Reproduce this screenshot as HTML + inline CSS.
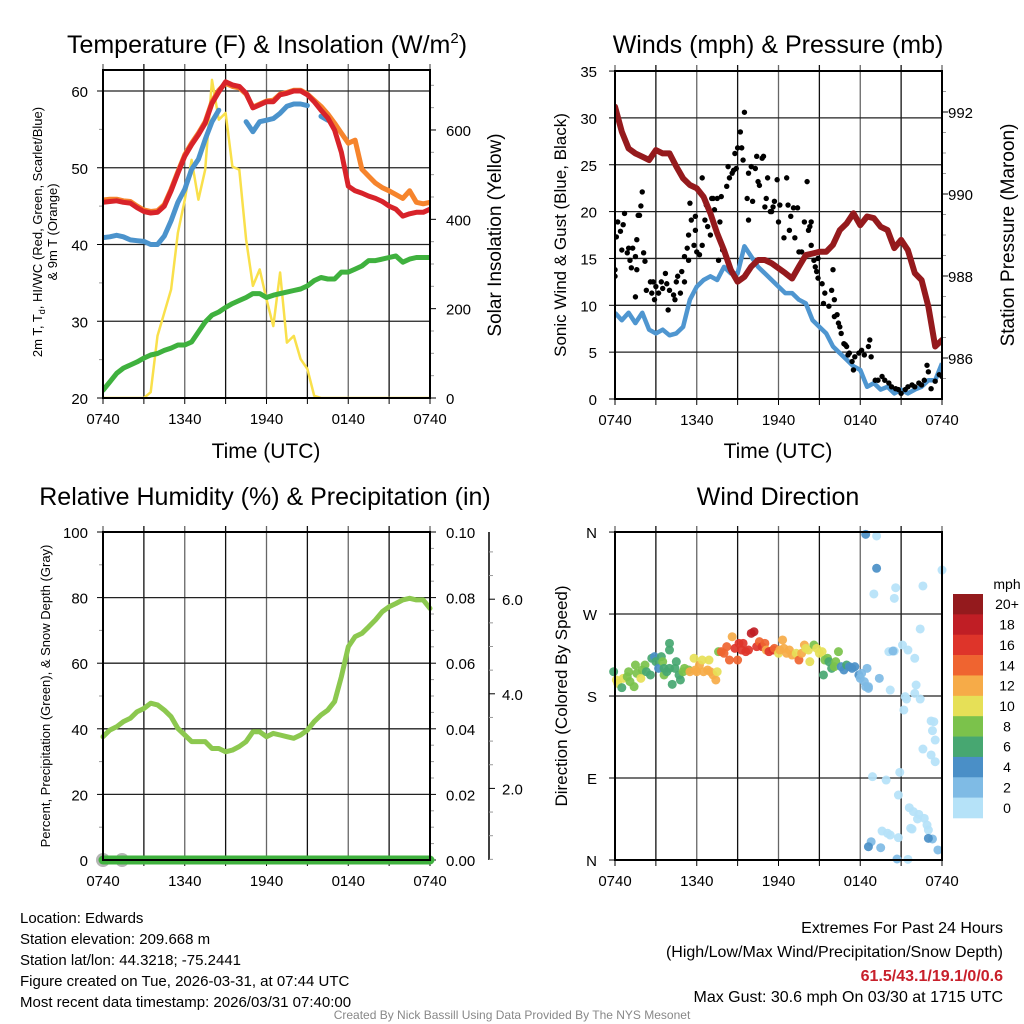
<!DOCTYPE html>
<html><head><meta charset="utf-8">
<style>
html,body{margin:0;padding:0;background:#fff;}
svg{display:block;font-family:"Liberation Sans",Arial,sans-serif;}
</style></head>
<body>
<svg id="chart" width="1024" height="1024" viewBox="0 0 1024 1024" xmlns="http://www.w3.org/2000/svg">
<defs>
<clipPath id="c1"><rect x="103" y="70" width="327" height="329"/></clipPath>
<clipPath id="c2"><rect x="615" y="71" width="327" height="328"/></clipPath>
<clipPath id="c4"><rect x="608" y="525" width="340" height="342"/></clipPath>
</defs>
<text x="267" y="53" font-size="25" text-anchor="middle">Temperature (F) &amp; Insolation (W/m<tspan font-size="15" dy="-10">2</tspan><tspan dy="10">)</tspan></text>
<text x="778" y="53" font-size="25" text-anchor="middle">Winds (mph) &amp; Pressure (mb)</text>
<text x="265" y="505" font-size="25" text-anchor="middle">Relative Humidity (%) &amp; Precipitation (in)</text>
<text x="778" y="505" font-size="25" text-anchor="middle">Wind Direction</text>

<text x="266" y="458" font-size="21" text-anchor="middle">Time (UTC)</text>
<text x="778" y="458" font-size="21" text-anchor="middle">Time (UTC)</text>

<text transform="translate(42,232) rotate(-90)" font-size="13" text-anchor="middle">2m T, T<tspan font-size="9" dy="3">d</tspan><tspan dy="-3">, HI/WC (Red, Green, Scarlet/Blue)</tspan></text>
<text transform="translate(57,232) rotate(-90)" font-size="13" text-anchor="middle">&amp; 9m T (Orange)</text>
<text transform="translate(501,235) rotate(-90)" font-size="19" text-anchor="middle">Solar Insolation (Yellow)</text>
<text transform="translate(566,235) rotate(-90)" font-size="17" text-anchor="middle">Sonic Wind &amp; Gust (Blue, Black)</text>
<text transform="translate(1014,235) rotate(-90)" font-size="19" text-anchor="middle">Station Pressure (Maroon)</text>
<text transform="translate(50,696) rotate(-90)" font-size="13" text-anchor="middle">Percent, Precipitation (Green), &amp; Snow Depth (Gray)</text>
<text transform="translate(567,696) rotate(-90)" font-size="17" text-anchor="middle">Direction (Colored By Speed)</text>

<g font-size="15">
<text x="20" y="923">Location: Edwards</text>
<text x="20" y="944">Station elevation: 209.668 m</text>
<text x="20" y="965">Station lat/lon: 44.3218; -75.2441</text>
<text x="20" y="986">Figure created on Tue, 2026-03-31, at 07:44 UTC</text>
<text x="20" y="1007">Most recent data timestamp: 2026/03/31 07:40:00</text>
</g>
<g font-size="16" text-anchor="end">
<text x="1003" y="933">Extremes For Past 24 Hours</text>
<text x="1003" y="957">(High/Low/Max Wind/Precipitation/Snow Depth)</text>
<text x="1003" y="981" fill="#c8202b" font-weight="bold">61.5/43.1/19.1/0/0.6</text>
<text x="1003" y="1002">Max Gust: 30.6 mph On 03/30 at 1715 UTC</text>
</g>
<text x="512" y="1019" font-size="12" fill="#888" text-anchor="middle">Created By Nick Bassill Using Data Provided By The NYS Mesonet</text>
<g id="plots"></g>
</svg>
<script>
// ---------- DATA ----------
const xTickHours = [0, 6, 12, 18, 24];
const xTickLabels = ["0740", "1340", "1940", "0140", "0740"];
const temp2m = [45.5,45.6,45.7,45.5,45.4,44.8,44.3,44.1,44.2,45.0,47.0,49.3,51.5,53.0,54.3,55.8,58.4,59.9,61.2,60.8,60.6,59.7,57.8,58.2,58.6,58.6,59.5,59.7,60.0,60.0,59.5,58.6,57.5,56.5,54.9,52.0,47.6,47.0,46.7,46.3,46.0,45.6,45.0,44.6,43.7,44.0,44.2,44.2,44.6];
const temp9m = [45.8,45.9,45.9,45.7,45.6,45.0,44.5,44.3,44.4,45.2,47.2,49.5,51.7,53.2,54.5,56.0,58.6,60.1,61.0,60.6,60.4,59.6,57.9,58.3,58.7,58.8,59.6,59.8,60.1,60.1,59.6,58.8,58.0,57.0,55.8,54.5,53.2,53.6,49.8,48.9,48.0,47.4,47.0,46.5,46.0,47.0,45.5,45.3,45.5];
const windChill = [40.9,41.0,41.2,41.0,40.6,40.5,40.4,40.0,40.0,41.1,43.1,45.5,47.2,49.8,51.1,53.7,56.0,57.5,null,null,null,56.0,54.7,56.0,56.2,56.4,57.1,58.0,58.3,58.3,58.1,null,56.7,56.2,null,null,null,null,null,null,null,null,null,null,null,null,null,null,43.0];
const dewPoint = [21.0,22.1,23.2,23.9,24.3,24.7,25.2,25.6,25.8,26.2,26.5,26.9,26.9,27.3,28.6,29.9,30.8,31.2,31.8,32.3,32.7,33.1,33.6,33.6,33.1,33.4,33.6,33.8,34.0,34.2,34.6,35.3,35.7,35.5,35.5,36.4,36.4,36.8,37.2,37.9,37.9,38.1,38.3,38.5,37.7,38.1,38.3,38.3,38.3];
const solar = [0,0,0,0,0,0,0,13,139,191,243,370,444,533,444,511,712,623,638,518,511,355,251,288,221,161,281,124,139,87,65,5,0,0,0,0,0,0,0,0,0,0,0,0,0,0,0,0,0];
const pressure = [992.13,991.52,991.11,990.99,990.91,990.83,991.07,990.99,990.99,990.67,990.38,990.22,990.14,989.93,989.53,989.04,988.63,988.15,987.86,987.98,988.23,988.39,988.39,988.31,988.19,988.07,987.94,988.23,988.51,988.55,988.59,988.59,988.76,989.12,989.28,989.53,989.24,989.45,989.41,989.20,989.12,988.68,988.88,988.63,988.07,987.90,987.25,986.28,986.44];
const sonicWind = [9.2,8.4,9.2,8.1,9.2,7.4,7.0,7.4,6.8,7.0,7.7,10.6,12.0,12.7,13.1,12.7,14.1,13.4,13.4,16.3,15.2,14.1,13.4,12.7,12.0,11.3,11.3,10.6,10.2,8.4,7.7,7.0,5.6,4.9,4.2,3.5,3.1,1.3,1.7,1.0,1.3,0.6,1.0,0.6,1.0,1.3,2.0,2.0,3.8];
const gustHours = [0.0,0.0,0.1,0.2,0.4,0.6,0.7,0.5,0.9,1.0,1.1,1.2,1.3,1.5,1.6,1.6,1.7,1.8,1.9,2.0,2.1,2.2,1.5,2.3,2.6,2.8,2.7,2.9,3.0,3.2,3.4,3.5,3.7,3.8,3.9,4.0,4.3,4.4,4.5,4.6,4.8,4.9,5.1,5.1,5.3,5.4,5.4,5.5,5.6,5.8,5.9,5.9,6.0,6.2,6.4,6.4,6.6,6.7,6.8,7.0,7.1,7.2,7.3,7.5,7.6,7.7,7.8,7.9,8.2,8.3,8.4,8.6,8.7,8.8,8.9,9.0,9.2,9.3,9.4,9.5,9.7,9.8,9.8,10.0,10.1,10.3,10.4,10.5,10.6,10.8,10.9,11.0,11.1,11.2,11.4,11.5,11.6,11.7,11.9,12.0,12.1,12.4,12.6,12.7,12.8,12.9,13.1,13.2,13.4,13.5,13.7,13.9,14.1,14.2,14.3,14.4,14.4,14.6,14.7,14.8,14.9,14.9,15.2,15.4,15.3,15.7,15.9,16.0,16.1,16.1,16.3,16.4,16.5,16.6,16.8,16.9,17.0,17.1,17.2,17.4,17.5,17.6,17.9,18.1,18.3,18.6,18.7,18.8,19.1,19.3,19.6,19.8,20.1,20.3,20.6,20.8,21.0,21.3,21.5,21.8,22.0,22.3,22.5,22.7,22.9,23.0,23.2,23.5,23.8,24.0];
const gustMph = [13.8,13.1,17.3,18.9,17.9,18.6,19.8,15.9,15.6,16.1,14.8,14.0,16.1,15.2,17.0,13.8,19.6,19.6,20.6,22.1,15.6,14.7,10.9,11.6,12.5,12.5,11.3,10.6,12.0,11.3,12.5,11.8,13.4,12.3,9.5,11.6,11.1,10.6,12.5,13.1,11.3,13.6,12.5,15.2,16.1,14.8,17.5,20.9,19.1,16.4,18.0,19.5,15.7,15.4,16.4,23.6,19.1,20.7,18.4,17.5,21.4,21.4,20.2,21.4,14.8,18.9,21.6,15.9,22.7,24.8,23.6,24.1,24.4,26.2,24.6,26.8,28.5,26.8,25.5,30.6,21.4,19.1,24.1,24.8,21.1,24.6,25.9,23.2,22.8,25.7,25.9,20.5,21.4,23.6,20.0,20.0,20.5,21.1,23.4,18.9,20.7,17.2,23.6,20.7,18.0,19.5,20.4,17.2,20.4,15.7,15.7,18.9,23.2,18.0,18.4,18.9,16.4,14.8,14.1,13.6,12.9,15.0,12.3,11.3,10.2,9.9,11.6,13.8,8.8,10.6,9.0,8.1,7.7,7.0,5.9,5.8,5.6,4.7,4.9,4.0,3.1,4.5,4.9,5.2,4.7,5.6,6.3,4.5,2.0,2.0,2.4,2.0,1.7,1.3,1.1,1.0,0.6,1.0,1.3,1.5,1.3,1.7,1.5,2.0,3.6,2.9,1.1,1.9,2.6,2.4];
const relHumidity = [37.6,39.6,40.6,42.2,43.2,45.2,46.2,47.8,47.3,45.7,43.7,40.1,38.1,36.1,36.1,36.1,34.0,34.0,33.0,33.5,34.6,36.1,39.1,39.1,37.6,38.6,38.1,37.6,37.1,38.1,39.6,42.2,44.2,45.7,48.3,55.9,65.0,68.1,69.1,71.1,73.2,75.7,77.2,78.2,79.3,79.8,79.3,79.3,76.7];
const precip = [0,0,0,0,0,0,0,0,0,0,0,0,0,0,0,0,0,0,0,0,0,0,0,0,0,0,0,0,0,0,0,0,0,0,0,0,0,0,0,0,0,0,0,0,0,0,0,0,0];
const snowHours = [0.0, 1.4];
const snowDepth = [0.0, 0.0];
const dirHours = [-0.1,0.1,0.2,0.5,0.6,0.9,1.0,1.1,1.4,1.5,1.6,1.9,2.0,2.2,2.3,2.6,2.7,2.9,3.0,3.2,3.4,3.5,3.6,3.6,3.8,4.0,4.0,4.0,4.2,4.4,4.5,4.7,4.8,5.0,5.1,5.4,5.5,5.8,5.9,6.0,6.2,6.4,6.5,6.8,6.9,7.0,7.2,7.4,7.5,7.6,7.8,8.0,8.2,8.4,8.6,8.8,9.0,9.1,9.3,9.4,9.6,9.8,10.0,10.2,10.4,10.6,10.8,11.0,11.1,11.3,11.6,11.7,12.0,12.1,12.3,12.4,12.6,12.8,13.0,13.3,13.5,13.7,13.9,14.0,14.2,14.3,14.6,14.8,15.0,15.2,15.3,15.4,15.6,15.7,15.9,16.1,16.2,16.4,16.6,16.8,17.0,17.2,17.4,17.6,17.9,18.0,18.1,18.3,18.4,18.6,
 18.6,19.4,18.5,18.4,19.2,20.5,20.5,20.1,20.6,20.4,20.2,21.3,21.4,21.2,21.1,21.5,22.0,22.1,22.0,22.4,22.4,22.6,24.0,19.2,19.0,23.2,23.2,23.4,23.3,23.5,22.6,23.5,20.9,18.9,19.9,20.8,21.6,21.9,22.2,22.3,22.7,22.9,21.8,20.8,20.2,20.0,19.6,18.8,21.7,23.0,23.3,23.0,18.6,19.5,23.7,20.7,21.5];
const dirDeg = [206.7,197.6,193.9,189.2,199.4,201.2,206.7,195.8,190.3,214,204.9,199.4,208.6,214,206.7,203.1,221.4,223.2,217.7,210.4,223.2,217.7,203.1,210.4,206.7,210.4,237.8,230.5,192.8,210.4,217.7,203.1,197.6,206.7,210.4,208.6,206.7,221.4,208.6,206.7,214,219.5,206.7,208.6,219.5,206.7,203.1,197.6,206.7,228.7,
 228.7,226.9,234.2,219.5,245.1,232.3,219.5,237.8,230.5,237.8,228.7,230.5,248.8,250.6,234.2,239.7,234.2,237.8,230.5,228.7,230.5,232.3,226.9,230.5,241.5,232.3,226.9,230.5,225,226.9,219.5,226.9,236,232.3,230.5,217.7,236,232.3,226.9,228.7,203.1,219.5,221.4,217.7,210.4,212.2,217.7,228.7,212.2,208.6,214,212.2,210.4,212.2,203.1,199.4,204.9,195.8,190.3,188.4,
 190.3,199.4,210.4,357.5,355.7,287.2,229.4,228.7,298.9,229.4,186.6,179.3,176.7,164.7,236,230.5,221.4,192.1,182.9,176.7,253.6,300.8,318.3,320.2,292,152.6,115.3,151.8,142,131.7,121.8,107.9,96.2,91.5,87.8,71.3,57.4,53.1,45,50.1,45.7,38.4,34,24.5,27.4,29.3,31.8,20.1,34.8,32.9,23.1,23.8,14.6,13.5,11,1.1,0.7];
const dirSpeed = [7,11,11,7,11,9,9,9,9,9,9,11,9,9,7,7,7,5,7,5,7,9,9,7,7,7,7,7,7,7,7,7,7,9,9,9,13,11,13,13,13,11,13,13,11,13,13,13,11,9,
 15,15,15,15,13,17,15,17,17,17,17,17,19,19,17,15,17,15,13,17,17,15,11,13,13,13,13,13,13,11,15,13,13,11,11,11,9,11,11,11,7,9,9,7,7,9,9,9,5,5,7,5,5,5,5,3,3,3,3,3,
 3,3,3,5,1,1,1,1,1,3,1,1,1,1,1,1,1,1,1,1,1,1,1,5,1,1,1,1,1,1,1,1,1,1,1,1,1,1,1,1,1,1,1,1,1,1,1,3,1,1,3,5,5,3,3,3,1];
const speedBinLabels = ["0","2","4","6","8","10","12","14","16","18","20+"];
const speedBinColors = ["#b5e2f8","#7fbbe5","#4a8fc7","#47a771","#7bc24b","#e6e057","#f6ab48","#ef6430","#de342a","#c01e25","#941a1d"];

// ---------- HELPERS ----------
const NS = "http://www.w3.org/2000/svg";
const root = document.getElementById("plots");
function mk(tag, attrs, parent) {
  const e = document.createElementNS(NS, tag);
  for (const k in attrs) e.setAttribute(k, attrs[k]);
  (parent || root).appendChild(e);
  return e;
}
function txt(x, y, s, size, anchor, parent) {
  const t = mk("text", {x: x, y: y, "font-size": size, "text-anchor": anchor}, parent);
  t.textContent = s;
  return t;
}
function linePath(xs, ys) {
  let d = "", pen = false;
  for (let i = 0; i < xs.length; i++) {
    if (ys[i] === null || ys[i] === undefined) { pen = false; continue; }
    d += (pen ? "L" : "M") + xs[i].toFixed(1) + "," + ys[i].toFixed(1);
    pen = true;
  }
  return d;
}
const halfHours = temp2m.map((_, i) => i * 0.5);

function frame(p, name) {
  const g = mk("g", {});
  
  
  for (let h = 0; h <= 24; h += 3) {
    const x = p.x(h);
    const gl = mk("line", {x1: x, x2: x, y1: p.top - 6, y2: p.bot, stroke: (h % 6 === 0) ? "#666" : "#111", "stroke-width": 1.3}, g);
    
    
    const tk = mk("line", {x1: x, x2: x, y1: p.bot, y2: p.bot + 6, stroke: "#000", "stroke-width": 1}, g);
    
    
  }
  xTickHours.forEach((h, i) => {
    const t = txt(p.x(h), p.bot + 26, xTickLabels[i], 15, "middle", g);
    
    
  });
  return g;
}
function border(p) {
  const r = mk("rect", {x: p.left, y: p.top, width: p.right - p.left, height: p.bot - p.top, fill: "none", stroke: "#000", "stroke-width": 2});
  
  
}
function hgrid(g, p, ys) {
  ys.forEach(y => {
    const l = mk("line", {x1: p.left, x2: p.right, y1: y, y2: y, stroke: "#222", "stroke-width": 1.3}, g);
    
    
  });
}
function yTicks(g, x, ys, len, major) {
  ys.forEach(y => {
    const l = mk("line", {x1: x, x2: x + len, y1: y, y2: y, stroke: major ? "#000" : "#999", "stroke-width": 1}, g);
    
    
  });
}

// ---------- PANEL 1 ----------
const p1 = {left: 103, right: 430, top: 70, bot: 398};
p1.x = h => p1.left + h / 24 * (p1.right - p1.left);
const yT = t => 91 + (60 - t) * 7.675;
const yS = w => 398 - w * 0.4467;
{
  const g = frame(p1, "temperature");
  const tks = [20, 30, 40, 50, 60];
  hgrid(g, p1, tks.map(yT));
  yTicks(g, p1.left, tks.map(yT), -6, true);
  yTicks(g, p1.left, [25, 35, 45, 55].map(yT), -4, false);
  tks.forEach(t => { const e = txt(88, yT(t) + 6, String(t), 15, "end", g);   });
  const sT = [0, 200, 400, 600];
  yTicks(g, p1.right, sT.map(yS), 6, true);
  yTicks(g, p1.right, [50, 100, 150, 250, 300, 350, 450, 500, 550, 650, 700].map(yS), 4, false);
  sT.forEach(w => { const e = txt(446, yS(w) + 6, String(w), 15, "start", g);   });
  const c = mk("g", {"clip-path": "url(#c1)"});
  const xs = halfHours.map(p1.x);
  const s1 = mk("path", {d: linePath(xs, solar.map(yS)), fill: "none", stroke: "#f9e04b", "stroke-width": 2.5, "stroke-linejoin": "round"}, c);
  
  
  const s2 = mk("path", {d: linePath(xs, dewPoint.map(yT)), fill: "none", stroke: "#3fb13e", "stroke-width": 5, "stroke-linejoin": "round", "stroke-linecap": "round"}, c);
  
  
  const s3 = mk("path", {d: linePath(xs, windChill.map(v => v === null ? null : yT(v))), fill: "none", stroke: "#4b93cc", "stroke-width": 5, "stroke-linejoin": "round", "stroke-linecap": "round"}, c);
  
  
  const s4 = mk("path", {d: linePath(xs, temp9m.map(yT)), fill: "none", stroke: "#f6842c", "stroke-width": 5, "stroke-linejoin": "round", "stroke-linecap": "round"}, c);
  
  
  const s5 = mk("path", {d: linePath(xs, temp2m.map(yT)), fill: "none", stroke: "#d8232a", "stroke-width": 5, "stroke-linejoin": "round", "stroke-linecap": "round"}, c);
  
  
  border(p1);
}

// ---------- PANEL 2 ----------
const p2 = {left: 615, right: 942, top: 71, bot: 399};
p2.x = h => p2.left + h / 24 * (p2.right - p2.left);
const yW = v => 399 - v * 9.37;
const yP = pr => 71 + (993 - pr) * 41;
{
  const g = frame(p2, "winds");
  const tks = [0, 5, 10, 15, 20, 25, 30, 35];
  hgrid(g, p2, tks.map(yW));
  yTicks(g, p2.left, tks.map(yW), -6, true);
  tks.forEach(v => { const e = txt(597, yW(v) + 6, String(v), 15, "end", g);   });
  const pt = [986, 988, 990, 992];
  yTicks(g, p2.right, pt.map(yP), 6, true);
  yTicks(g, p2.right, [985.5, 986.5, 987, 987.5, 988.5, 989, 989.5, 990.5, 991, 991.5, 992.5].map(yP), 4, false);
  pt.forEach(v => { const e = txt(948, yP(v) + 6, String(v), 15, "start", g);   });
  const c = mk("g", {"clip-path": "url(#c2)"});
  const xs = halfHours.map(p2.x);
  const w = mk("path", {d: linePath(xs, sonicWind.map(yW)), fill: "none", stroke: "#4f96d0", "stroke-width": 4.5, "stroke-linejoin": "round"}, c);
  
  
  gustHours.forEach((h, i) => {
    const d = mk("circle", {cx: p2.x(Math.max(0, h)), cy: yW(gustMph[i]), r: 2.7, fill: "#000"}, c);
    
    
  });
  const pl = mk("path", {d: linePath(xs, pressure.map(yP)), fill: "none", stroke: "#951a1d", "stroke-width": 6, "stroke-linejoin": "round", "stroke-linecap": "round"}, c);
  
  
  border(p2);
}

// ---------- PANEL 3 ----------
const p3 = {left: 103, right: 430, top: 532, bot: 860};
p3.x = h => p3.left + h / 24 * (p3.right - p3.left);
const yR = r => 860 - r * 3.28;
const yPr = v => 860 - v * 3280;
const ySn = s => 883 - s * 47.3;
{
  const g = frame(p3, "humidity");
  const tks = [0, 20, 40, 60, 80, 100];
  hgrid(g, p3, tks.map(yR));
  yTicks(g, p3.left, tks.map(yR), -6, true);
  yTicks(g, p3.left, [10, 30, 50, 70, 90].map(yR), -4, false);
  tks.forEach(v => { const e = txt(88, yR(v) + 6, String(v), 15, "end", g);   });
  const pk = [0, 0.02, 0.04, 0.06, 0.08, 0.10];
  yTicks(g, p3.right, pk.map(yPr), 6, true);
  yTicks(g, p3.right, [0.005,0.01,0.015,0.025,0.03,0.035,0.045,0.05,0.055,0.065,0.07,0.075,0.085,0.09,0.095].map(yPr), 4, false);
  pk.forEach(v => { const e = txt(446, yPr(v) + 6, v.toFixed(2), 15, "start", g);   });
  const ax = mk("line", {x1: 489, x2: 489, y1: 532, y2: 860, stroke: "#000", "stroke-width": 1.5}, g);
  
  
  const sk = [2, 4, 6];
  yTicks(g, 489, sk.map(ySn), 6, true);
  yTicks(g, 489, [0.5, 1, 1.5, 2.5, 3, 3.5, 4.5, 5, 5.5, 6.5, 7].map(ySn), 4, false);
  sk.forEach(v => { const e = txt(502, ySn(v) + 6, v.toFixed(1), 15, "start", g);   });
  snowHours.forEach((h, i) => {
    const d = mk("circle", {cx: p3.x(h), cy: ySn(snowDepth[i]) - 23, r: 7, fill: "#b5b5b5"});
    
    
  });
  const xs = halfHours.map(p3.x);
  const pr = mk("path", {d: linePath(xs, precip.map(yPr)), fill: "none", stroke: "#3fb13e", "stroke-width": 9, "stroke-linecap": "round"});
  
  
  const rh = mk("path", {d: linePath(xs, relHumidity.map(yR)), fill: "none", stroke: "#8cc84f", "stroke-width": 5, "stroke-linejoin": "round", "stroke-linecap": "round"});
  
  
  border(p3);
}

// ---------- PANEL 4 ----------
const p4 = {left: 615, right: 942, top: 532, bot: 860};
p4.x = h => p4.left + h / 24 * (p4.right - p4.left);
const yD = d => 860 - d * 0.911;
{
  const g = frame(p4, "wind-direction");
  const dk = [0, 90, 180, 270, 360];
  const dl = ["N", "E", "S", "W", "N"];
  hgrid(g, p4, dk.map(yD));
  yTicks(g, p4.left, dk.map(yD), -6, true);
  dk.forEach((v, i) => { const e = txt(597, yD(v) + 6, dl[i], 15, "end", g);   });
  const c = mk("g", {"clip-path": "url(#c4)"});
  dirHours.forEach((h, i) => {
    const bin = Math.min(10, Math.floor(dirSpeed[i] / 2));
    const d = mk("circle", {cx: p4.x(h), cy: yD(dirDeg[i]), r: 4.5, fill: speedBinColors[bin], "fill-opacity": 0.92}, c);
    
    
  });
  border(p4);
  const cb = mk("g", {});
  
  
  const bh = 224 / speedBinColors.length;
  for (let i = 0; i < speedBinColors.length; i++) {
    const k = speedBinColors.length - 1 - i;
    const r = mk("rect", {x: 953, y: 594 + i * bh, width: 30, height: bh + 0.3, fill: speedBinColors[k]}, cb);
    
    
    const t = txt(1007, 594 + i * bh + bh / 2 + 5, speedBinLabels[k], 14, "middle", cb);
    
    
  }
  const u = txt(1007, 589, "mph", 14, "middle", cb);
  
  
}
</script>
</body></html>
